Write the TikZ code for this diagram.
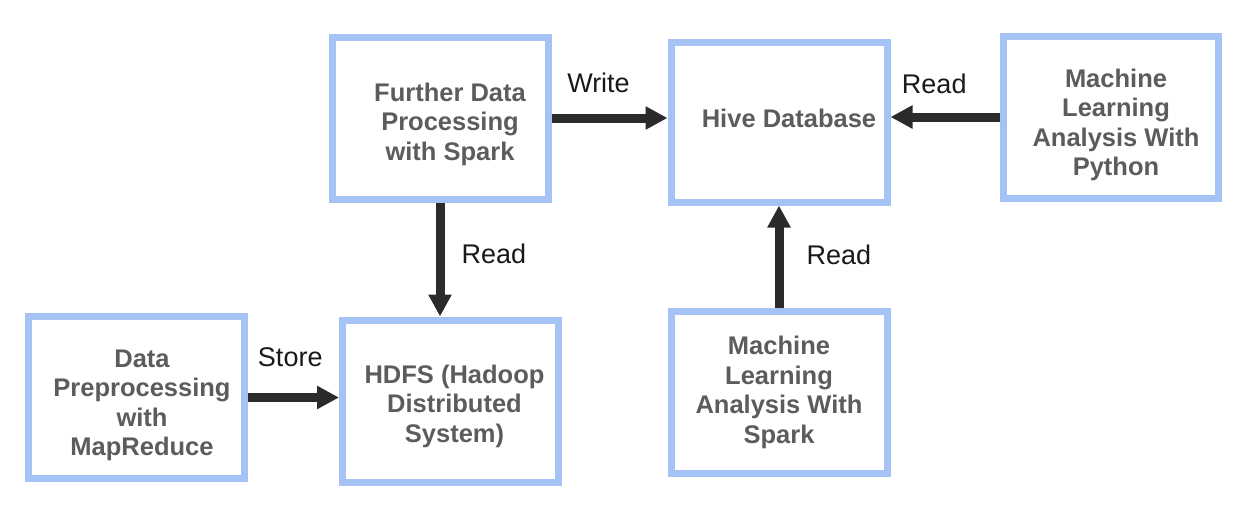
\documentclass[tikz,border=0pt]{standalone}
\usepackage{fontspec}
\setmainfont{Liberation Sans}
\usetikzlibrary{arrows.meta,positioning}
\definecolor{boxblue}{HTML}{A4C2F4}
\definecolor{boxtext}{HTML}{5C5C5C}
\definecolor{arrowgray}{HTML}{2B2B2B}

\begin{document}
\begin{tikzpicture}[
x=1pt, y=-1pt,
box/.style={
  draw=boxblue,
  line width=7pt,
  fill=white,
  minimum width=216pt,
  minimum height=162pt
  },
boxlbl/.style={
  align=center,
  inner sep=0pt,
  text=boxtext,
  font=\fontsize{25.5}{29.5}\selectfont\bfseries
  },
lbl/.style={
  inner sep=0pt,
  text=black!90,
  font=\fontsize{27}{30}\selectfont
  },
flow/.style={
  ->,
  line width=9pt,
  draw=arrowgray
  },
>={Triangle[length=22pt,width=22pt]}
]
\useasboundingbox (0,0) rectangle (1247,514);
% top row
\node[box] (further) at (440,118) {};
\node[box, minimum height=160pt] (hive) at (779,122) {};
\node[box, minimum width=215pt] (python) at (1111,117) {};
% bottom row
\node[box] (prep) at (136,397.5) {};
\node[box] (hdfs) at (450.5,401) {};
\node[box] (mlspark) at (779,392.5) {};
% box texts
\node[boxlbl] (further-t) at ([xshift=10pt,yshift=-6pt]further.center) {Further Data\\Processing\\with Spark};
\node[boxlbl] (hive-t) at ([xshift=10pt,yshift=4pt]hive.center) {Hive Database};
\node[boxlbl] (python-t) at ([xshift=5pt,yshift=-8pt]python.center) {Machine\\Learning\\Analysis With\\Python};
\node[boxlbl] (prep-t) at ([xshift=6pt,yshift=-8pt]prep.center) {Data\\Preprocessing\\with\\MapReduce};
\node[boxlbl] (hdfs-t) at ([xshift=4pt,yshift=-5pt]hdfs.center) {HDFS (Hadoop\\Distributed\\System)};
\node[boxlbl] (mlspark-t) at (mlspark.center) {Machine\\Learning\\Analysis With\\Spark};
% connectors
\draw[flow] (further.east) -- node[lbl, above=21pt, xshift=-11pt] {Write} (further.east -| hive.west);
\draw[flow] (python.west) -- node[lbl, above=19pt, xshift=-11pt] {Read} (python.west -| hive.east);
\draw[flow] (further.south) -- node[lbl, right=17pt, yshift=5.5pt] {Read} (further.south |- hdfs.north);
\draw[flow] (mlspark.north) -- node[lbl, right=23pt, yshift=2pt] {Read} (hive.south);
\draw[flow] (prep.east) -- node[lbl, above=26pt, xshift=-3pt] {Store} (prep.east -| hdfs.west);
\end{tikzpicture}
\end{document}
